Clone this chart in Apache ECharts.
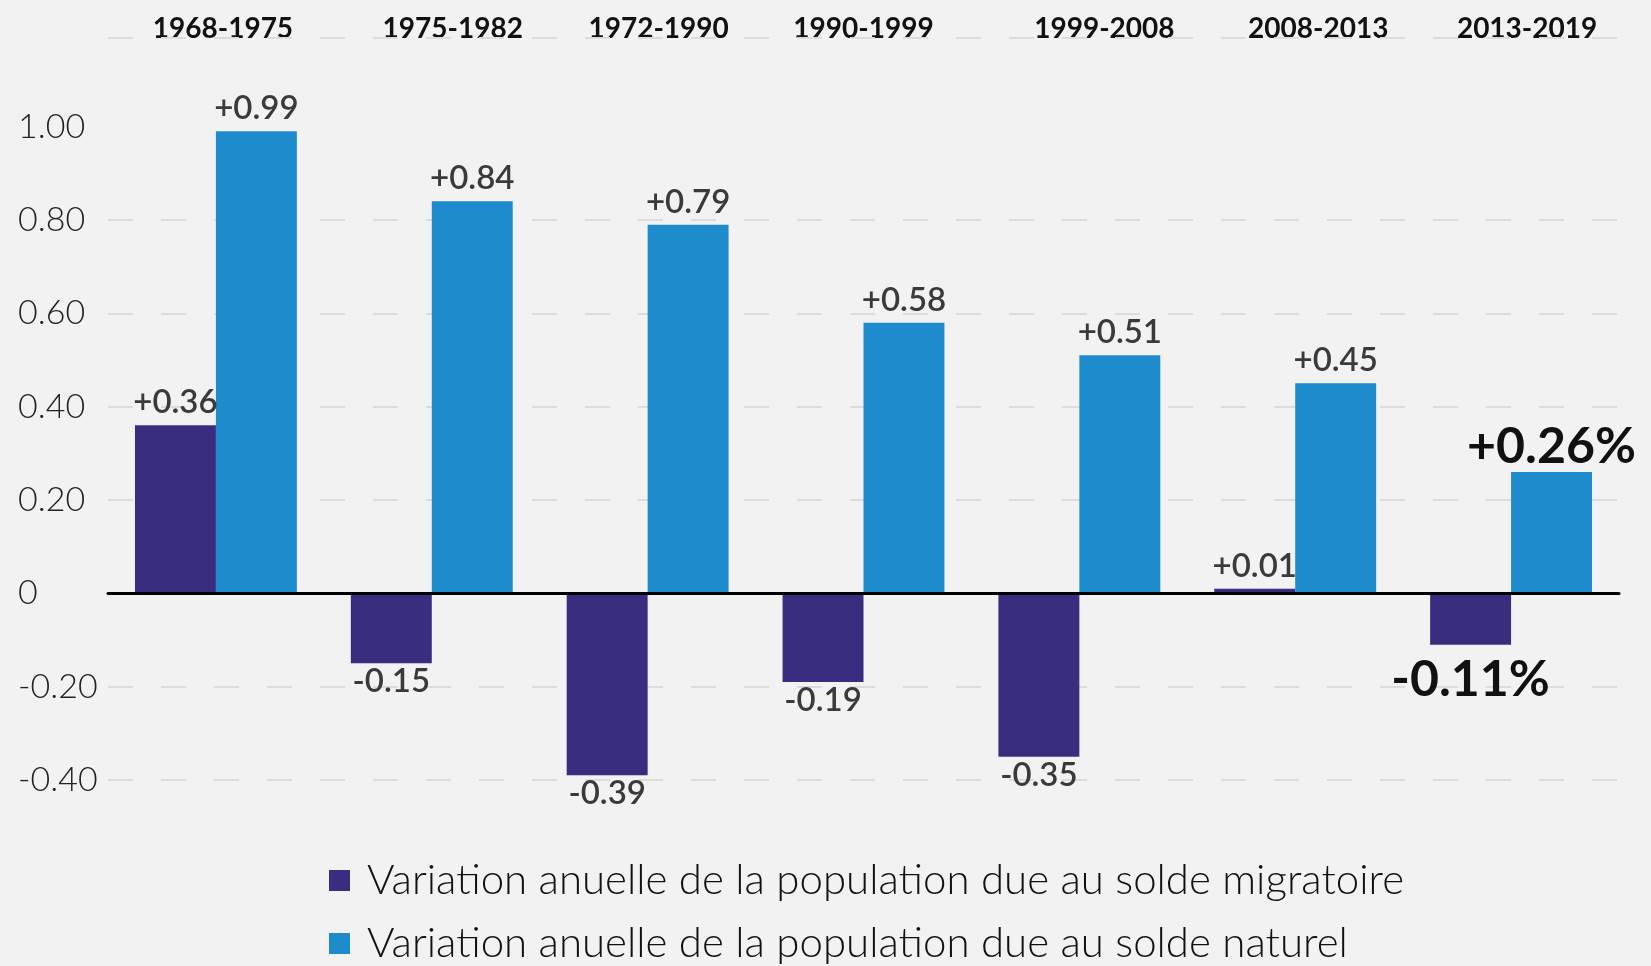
<!DOCTYPE html>
<html>
<head>
<meta charset="utf-8">
<script src="https://cdn.jsdelivr.net/npm/echarts@6/dist/echarts.min.js"></script>
<style>
  html, body { margin: 0; padding: 0; background: #f2f2f2; }
  #box1 { width: 1651px; height: 966px; }
</style>
</head>
<body>
<div id="box1"></div>
<script>
// data
let periods = ['1968-1975', '1975-1982', '1972-1990', '1990-1999', '1999-2008', '2008-2013', '2013-2019'];
let migratoire = [0.36, -0.15, -0.39, -0.19, -0.35, 0.01, -0.11];
let naturel = [0.99, 0.84, 0.79, 0.58, 0.51, 0.45, 0.26];
let yTicks = [-0.4, -0.2, 0, 0.2, 0.4, 0.6, 0.8, 1.0];
let gridLevels = [-0.4, -0.2, 0.2, 0.4, 0.6, 0.8, 1.19];
let seriesNames = [
    'Variation anuelle de la population due au solde migratoire',
    'Variation anuelle de la population due au solde naturel'
];

// header labels are hand placed in the original, a bit right of center
let headerShift = [7, 21, 11, 0, 25, 23, 16];

let last = periods.length - 1;

function fmt(v) {
    return (v > 0 ? '+' : '') + v.toFixed(2);
}

function barData(values) {
    return values.map(function (v, i) {
        let lab = {
            position: v < 0 ? 'bottom' : 'top',
            distance: v < 0 ? 2 : 6
        };
        if (i === last) {
            lab.fontSize = 50;
            lab.fontWeight = 'bold';
            lab.color = '#111';
            lab.distance = v < 0 ? 10 : 0;
        }
        return { value: v, label: lab };
    });
}

let headerRich = {};
headerShift.forEach(function (s, i) {
    headerRich['c' + i] = {
        fontFamily: 'Lato',
        fontSize: 28,
        fontWeight: 'bold',
        color: '#111',
        padding: s > 0 ? [0, 0, 0, 2 * s] : [0, -2 * s, 0, 0]
    };
});

let box1 = document.querySelector('#box1');
let myChart1 = echarts.init(box1);
let option1 = {
    backgroundColor: '#f2f2f2',
    animation: false,
    grid: {
        left: 108,
        right: 32,
        top: 38,
        bottom: 186
    },
    legend: {
        orient: 'vertical',
        left: 329,
        top: 858,
        height: 140,
        padding: 0,
        icon: 'rect',
        itemWidth: 21,
        itemHeight: 21,
        itemGap: 18,
        textStyle: {
            fontFamily: 'Lato',
            fontSize: 42,
            fontWeight: 300,
            lineHeight: 45,
            color: '#111',
            padding: [0, 0, 0, 12]
        },
        data: seriesNames
    },
    xAxis: [
        {
            type: 'category',
            data: periods,
            z: 3,
            axisLine: { onZero: true, lineStyle: { color: '#000', width: 3 } },
            axisTick: { show: false },
            axisLabel: { show: false },
            splitLine: { show: false }
        },
        {
            type: 'category',
            data: periods,
            position: 'top',
            axisLine: { show: false },
            axisTick: { show: false },
            axisLabel: {
                margin: -5,
                formatter: function (v, i) {
                    return '{c' + i + '|' + v + '}';
                },
                rich: headerRich
            }
        }
    ],
    yAxis: {
        type: 'value',
        min: -0.4,
        max: 1.19,
        interval: 0.2,
        axisLine: { show: false },
        axisTick: { show: false },
        splitLine: { show: false },
        axisLabel: {
            align: 'left',
            margin: 90,
            fontFamily: 'Lato',
            fontSize: 34,
            fontWeight: 300,
            color: '#222',
            padding: [0, 0, 6, 0],
            formatter: function (v) {
                let t = yTicks.find(function (k) { return Math.abs(k - v) < 1e-6; });
                if (t === undefined) return '';
                return t === 0 ? '0' : t.toFixed(2);
            }
        }
    },
    series: [
        {
            name: seriesNames[0],
            type: 'bar',
            xAxisIndex: 0,
            barGap: '0%',
            barCategoryGap: '25%',
            itemStyle: { color: '#392d80' },
            label: {
                show: true,
                fontFamily: 'Lato',
                fontSize: 33,
                fontWeight: 600,
                color: '#3a3a3a',
                formatter: function (p) {
                    return fmt(p.value) + (p.dataIndex === last ? '%' : '');
                }
            },
            markLine: {
                silent: true,
                symbol: 'none',
                z: 1,
                label: { show: false },
                lineStyle: { color: '#dcdcdc', width: 2, type: [25, 28] },
                data: gridLevels.map(function (g) { return { yAxis: g }; })
            },
            data: barData(migratoire)
        },
        {
            name: seriesNames[1],
            type: 'bar',
            xAxisIndex: 0,
            barGap: '0%',
            barCategoryGap: '25%',
            itemStyle: { color: '#1e8bcc' },
            label: {
                show: true,
                fontFamily: 'Lato',
                fontSize: 33,
                fontWeight: 600,
                color: '#3a3a3a',
                formatter: function (p) {
                    return fmt(p.value) + (p.dataIndex === last ? '%' : '');
                }
            },
            data: barData(naturel)
        }
    ]
};
myChart1.setOption(option1);
</script>
</body>
</html>
